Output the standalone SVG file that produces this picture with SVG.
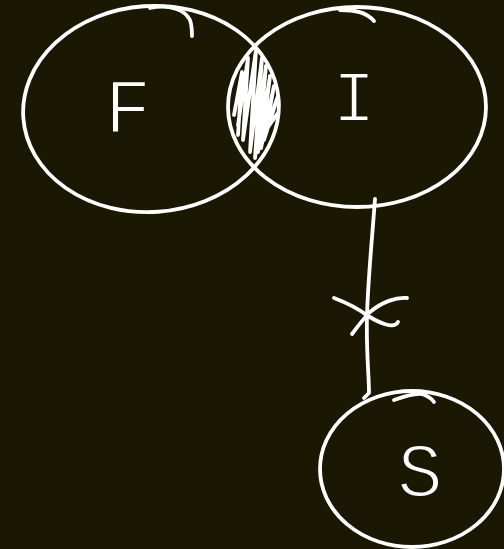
<svg xmlns="http://www.w3.org/2000/svg" width="504" height="549" viewBox="0 0 504 549">
<defs>
<style>
.s{fill:none;stroke:#fff;stroke-width:3.8;stroke-linecap:round;stroke-linejoin:round}
.t{fill:#fff;stroke:#1a1802;stroke-width:2.2;font-family:"Liberation Mono",monospace;text-anchor:middle}
</style>
<clipPath id="clipI"><ellipse cx="357" cy="107" rx="129" ry="100"/></clipPath>
<clipPath id="clipF"><ellipse cx="151" cy="109" rx="128" ry="103" transform="rotate(-4 151 109)"/></clipPath>
</defs>
<rect width="504" height="549" fill="#1a1802"/>
<g id="connectors">
<path class="s" d="M375,199 C372,240 368,280 367,315 C366,350 369,375 369,393 L364,398"/>
<path class="s" d="M334,298 C350,304 360,310 368,316 C378,322 394,330 398,322"/>
<path class="s" d="M352,334 C358,326 364,318 370,312 C382,302 396,297 407,298"/>
</g>
<g id="node-F">
<ellipse class="s" cx="151" cy="109" rx="128" ry="103" transform="rotate(-4 151 109)"/>
<path class="s" d="M150,8 C170,4 185,10 190,20 C192,26 192,32 192,36"/>
<text class="t" x="128" y="133" font-size="78">F</text>
</g>
<g id="node-I">
<ellipse class="s" cx="357" cy="107" rx="129" ry="100"/>
<path class="s" d="M340,10 C355,10 366,12 374,21"/>
<text class="t" x="354" y="121" font-size="72">I</text>
</g>
<g id="overlap" clip-path="url(#clipI)">
<g clip-path="url(#clipF)">
<path class="s" stroke-width="3.2" d="M238,125 L248,58 L243,140 L256,50 L250,152 L262,58 L255,158 L266,66 L258,152 L270,76 L261,148 L274,86 L264,140 L278,96 L266,130 L280,110 M234,115 L242,72 L238,135"/>
</g>
</g>
<g id="node-S">
<ellipse class="s" cx="412" cy="469" rx="92" ry="78"/>
<path class="s" d="M394,400 C405,396 415,393 422,394 C428,396 432,399 434,402"/>
<text class="t" x="420" y="496" font-size="76">S</text>
</g>
</svg>
